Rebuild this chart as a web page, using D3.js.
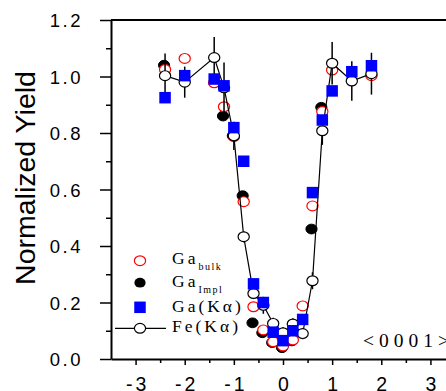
<!DOCTYPE html>
<html>
<head>
<meta charset="utf-8">
<script src="https://cdn.jsdelivr.net/npm/d3@7"></script>
<style>
  html, body { margin: 0; padding: 0; background: #fff; }
  svg { display: block; }
</style>
</head>
<body>
<div id="chart"></div>
<script>
// ---- data ----
const angles  = [-2.4, -2.0, -1.4, -1.2, -1.0, -0.8, -0.6, -0.4, -0.2, 0.0, 0.2, 0.4, 0.6, 0.8, 1.0, 1.4, 1.8];
const feKa    = [1.003, 0.98, 1.067, 0.96, 0.79, 0.433, 0.232, 0.19, 0.126, 0.093, 0.124, 0.09, 0.277, 0.808, 1.047, 0.984, 1.01];
const feKaErr = [0.078, 0.055, 0.073, 0.09, 0.05, 0.02, 0.02, 0.03, 0.02, 0.02, 0.02, 0.02, 0.03, 0.05, 0.075, 0.07, 0.074];
const gaBulk  = [1.025, 1.064, 0.978, 0.893, 0.787, 0.557, 0.185, 0.103, 0.061, 0.046, 0.067, 0.188, 0.542, 0.876, 1.023, null, 1.003];
const gaImpl  = [1.04, null, null, 0.86, 0.79, 0.578, 0.128, 0.093, 0.058, 0.04, 0.064, null, 0.46, 0.891, null, null, null];
const gaKa    = [0.925, 1.003, 0.991, 0.967, 0.819, 0.70, 0.266, 0.20, 0.095, 0.065, 0.10, 0.14, 0.589, 0.846, 0.949, 1.017, 1.038];

const xMajorTicks = [-3, -2, -1, 0, 1, 2, 3];
const xMinorTicks = [-2.5, -1.5, -0.5, 0.5, 1.5, 2.5];
const yMajorTicks = [0.0, 0.2, 0.4, 0.6, 0.8, 1.0, 1.2];
const yMinorTicks = [0.1, 0.3, 0.5, 0.7, 0.9, 1.1];

const legendLabels = [
  { main: "Ga", sub: "bulk" },
  { main: "Ga", sub: "Impl" },
  { main: "Ga(K\u03B1)", sub: null },
  { main: "Fe(K\u03B1)", sub: null }
];
const yTitle = "Normalized Yield";
const annotation = "<0001>";

// ---- layout ----
const W = 446, H = 391;
const svg = d3.select("#chart").append("svg").attr("width", W).attr("height", H);

const x = d3.scaleLinear().domain([-3.5, 3.5]).range([111, 455]);
const y = d3.scaleLinear().domain([0, 1.2]).range([359, 20]);

const sansFont = "'Liberation Sans', Arial, sans-serif";
const serifFont = "'Liberation Serif', 'Times New Roman', serif";

// frame (top + right)
svg.append("line").attr("x1", x(-3.5)).attr("x2", x(3.5)).attr("y1", y(1.2)).attr("y2", y(1.2))
  .attr("stroke", "#000").attr("stroke-width", 2);
svg.append("line").attr("x1", x(3.5)).attr("x2", x(3.5)).attr("y1", y(0)).attr("y2", y(1.2))
  .attr("stroke", "#000").attr("stroke-width", 2);

// x axis
const xAxisG = svg.append("g").attr("transform", `translate(0,${y(0)})`)
  .call(d3.axisBottom(x).tickValues(xMajorTicks).tickSize(6).tickSizeOuter(0).tickFormat(d3.format("d")));
svg.append("g").attr("transform", `translate(0,${y(0)})`)
  .call(d3.axisBottom(x).tickValues(xMinorTicks).tickSize(4).tickSizeOuter(0).tickFormat(""))
  .call(g => g.select(".domain").remove());
xAxisG.select(".domain").attr("stroke-width", 2);
xAxisG.selectAll(".tick text")
  .attr("font-family", sansFont).attr("font-size", 19.5).attr("fill", "#000")
  .attr("y", 0).attr("dy", 0).attr("transform", "translate(1.5,31.5)")
  .style("letter-spacing", "3px")
  .text(d => d < 0 ? "-" + Math.abs(d) : String(d));

// y axis
const yAxisG = svg.append("g").attr("transform", `translate(${x(-3.5)},0)`)
  .call(d3.axisLeft(y).tickValues(yMajorTicks).tickSize(11).tickSizeOuter(0).tickFormat(d3.format(".1f")));
svg.append("g").attr("transform", `translate(${x(-3.5)},0)`)
  .call(d3.axisLeft(y).tickValues(yMinorTicks).tickSize(5).tickSizeOuter(0).tickFormat(""))
  .call(g => g.select(".domain").remove());
yAxisG.select(".domain").attr("stroke-width", 2);
yAxisG.selectAll(".tick text")
  .attr("font-family", sansFont).attr("font-size", 18.5).attr("fill", "#000")
  .attr("x", -28).attr("dy", "0.36em")
  .style("letter-spacing", "2.5px");
svg.selectAll(".tick line").attr("stroke-width", 1.5);

// y title
svg.append("text")
  .attr("transform", `translate(35,178) rotate(-90)`)
  .attr("text-anchor", "middle")
  .attr("font-family", sansFont).attr("font-size", 28.5).attr("fill", "#000")
  .text(yTitle);

// ---- marks ----
const rx = 5.6, ry = 4.9, sq = 11.5;
const pts = (arr) => angles.map((a, i) => ({ a, v: arr[i], i })).filter(d => d.v !== null);

// Ga impl (black filled)
svg.append("g").selectAll("ellipse").data(pts(gaImpl)).join("ellipse")
  .attr("cx", d => x(d.a) - 1).attr("cy", d => y(d.v)).attr("rx", rx).attr("ry", ry)
  .attr("fill", "#000").attr("stroke", "#000").attr("stroke-width", 1);

// Ga bulk (red open)
svg.append("g").selectAll("ellipse").data(pts(gaBulk)).join("ellipse")
  .attr("cx", d => x(d.a)).attr("cy", d => y(d.v)).attr("rx", rx).attr("ry", ry)
  .attr("fill", "#fff").attr("stroke", "#ff0000").attr("stroke-width", 1.2);

// Fe error bars
svg.append("g").selectAll("line").data(pts(feKa)).join("line")
  .attr("x1", d => x(d.a)).attr("x2", d => x(d.a))
  .attr("y1", d => y(d.v - feKaErr[d.i])).attr("y2", d => y(d.v + feKaErr[d.i]))
  .attr("stroke", "#000").attr("stroke-width", 1.5);

// Fe line
svg.append("path").datum(pts(feKa))
  .attr("d", d3.line().x(d => x(d.a)).y(d => y(d.v)))
  .attr("fill", "none").attr("stroke", "#000").attr("stroke-width", 1.2);

// Fe circles
svg.append("g").selectAll("ellipse").data(pts(feKa)).join("ellipse")
  .attr("cx", d => x(d.a)).attr("cy", d => y(d.v)).attr("rx", rx).attr("ry", ry)
  .attr("fill", "#fff").attr("stroke", "#000").attr("stroke-width", 1.2);

// Ga K alpha (blue squares)
svg.append("g").selectAll("rect").data(pts(gaKa)).join("rect")
  .attr("x", d => x(d.a) - sq / 2).attr("y", d => y(d.v) - sq / 2)
  .attr("width", sq).attr("height", sq)
  .attr("fill", "#0000ff");

// ---- legend ----
const legX = 140, legTextX = 172;
const legY = [260.7, 282.7, 307.3, 328.3];
const leg = svg.append("g");
leg.append("ellipse").attr("cx", legX).attr("cy", legY[0]).attr("rx", rx).attr("ry", ry)
  .attr("fill", "#fff").attr("stroke", "#ff0000").attr("stroke-width", 1.2);
leg.append("ellipse").attr("cx", legX).attr("cy", legY[1]).attr("rx", rx).attr("ry", ry)
  .attr("fill", "#000");
leg.append("rect").attr("x", legX - sq / 2).attr("y", legY[2] - sq / 2).attr("width", sq).attr("height", sq)
  .attr("fill", "#0000ff");
leg.append("line").attr("x1", 115).attr("x2", 166).attr("y1", legY[3]).attr("y2", legY[3])
  .attr("stroke", "#000").attr("stroke-width", 1.2);
leg.append("ellipse").attr("cx", legX).attr("cy", legY[3]).attr("rx", rx).attr("ry", ry)
  .attr("fill", "#fff").attr("stroke", "#000").attr("stroke-width", 1.2);

const baselines = [263.5, 286.5, 311.7, 331.7];
legendLabels.forEach((l, i) => {
  const t = leg.append("text").attr("x", legTextX).attr("y", baselines[i])
    .attr("font-family", serifFont).attr("font-size", 17.5).attr("fill", "#000")
    .style("letter-spacing", "3px");
  t.append("tspan").text(l.main);
  if (l.sub) {
    t.append("tspan").attr("font-size", 10).attr("dy", 6).style("letter-spacing", "1.5px").text(l.sub);
  }
});

// annotation
svg.append("text").attr("x", 363).attr("y", 347)
  .attr("font-family", serifFont).attr("font-size", 19.5).attr("fill", "#000")
  .style("letter-spacing", "5px")
  .text(annotation);
</script>
</body>
</html>
